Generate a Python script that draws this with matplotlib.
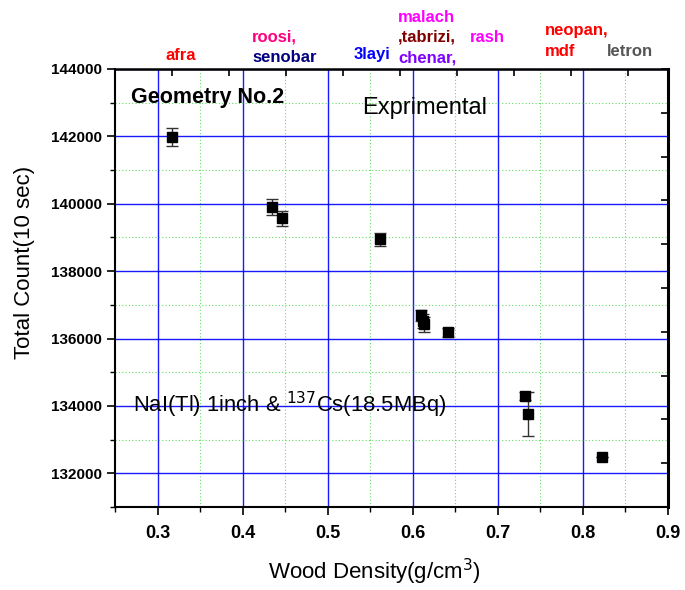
import matplotlib
matplotlib.use("Agg")
import matplotlib.pyplot as plt
from matplotlib.ticker import MultipleLocator

density = [0.317, 0.434, 0.446, 0.562, 0.610, 0.612, 0.613, 0.641, 0.732, 0.736, 0.822]
counts = [141980, 139910, 139570, 138940, 136690, 136520, 136420, 136180, 134290, 133750, 132480]
errors = [260, 230, 220, 200, 160, 200, 230, 130, 120, 650, 0]

wood_labels = ["afra", "roosi,", "senobar", "3layi", "malach", ",tabrizi,", "chenar,",
               "rash", "neopan,", "mdf", "letron"]
label_colors = ["#FF0000", "#FF0080", "#000080", "#0000FF", "#FF00FF", "#800000", "#8000FF",
                "#FF00FF", "#FF0000", "#FF0000", "#555555"]
# positions in figure pixels (x left edge, y from top)
label_pos = [(165, 55), (252, 37), (252, 57), (354, 55), (398, 17), (398, 37), (398, 58),
             (470, 37), (545, 30), (545, 52), (607, 52)]

plt.rcParams['font.family'] = ['Liberation Sans', 'DejaVu Sans']

W, H = 685, 590
fig = plt.figure(figsize=(W / 100, H / 100), dpi=100)
L, R, T, B = 115, 668, 69, 507
ax = fig.add_axes([L / W, 1 - B / H, (R - L) / W, (B - T) / H])

ax.set_xlim(0.25, 0.9)
ax.set_ylim(131000, 144000)
ax.xaxis.set_major_locator(MultipleLocator(0.1))
ax.xaxis.set_minor_locator(MultipleLocator(0.05))
ax.yaxis.set_minor_locator(MultipleLocator(1000))
ax.set_yticks([132000, 134000, 136000, 138000, 140000, 142000, 144000])

ax.grid(which='major', color='#0000FF', lw=1.0, alpha=0.9)
ax.grid(which='minor', color='#66DD66', lw=0.8, ls=(0, (1, 2)))
ax.set_axisbelow(True)

ax.errorbar(density, counts, yerr=errors, fmt='s', color='black', ms=7,
            ecolor='#333333', elinewidth=1.0, capsize=4, capthick=1.0, zorder=5)

ax.tick_params(which='major', direction='out', length=6, width=1.2,
               top=False, right=False)
ax.tick_params(which='minor', direction='out', length=3.5, width=1.0, top=False, right=False)
ax.tick_params(axis='y', labelsize=11)
ax.tick_params(axis='x', labelsize=13, pad=7)
for lab in ax.get_xticklabels() + ax.get_yticklabels():
    lab.set_fontweight('bold')

for s in ['left', 'bottom']:
    ax.spines[s].set_linewidth(1.5)
ax.spines['right'].set_linewidth(2.2)
ax.spines['top'].set_linewidth(1.8)

# secondary axes ticks (inward) on top and right
axt = ax.twiny()
axt.set_xlim(0, 1)
axt.xaxis.set_major_locator(MultipleLocator(0.103))
axt.tick_params(direction='in', length=5, width=1.2, labeltop=False)
axr = ax.twinx()
axr.set_ylim(0, 1)
axr.yaxis.set_major_locator(MultipleLocator(0.1))
axr.tick_params(direction='in', length=5, width=1.2, labelright=False)
for a in (axt, axr):
    for s in a.spines.values():
        s.set_visible(False)

ax.set_xlabel('Wood Density(g/cm$^3$)', fontsize=16, va='center')
ax.xaxis.set_label_coords((374 - L) / (R - L), -(572 - B) / (B - T))
ax.set_ylabel('Total Count(10 sec)', fontsize=16, va='center')
ax.yaxis.set_label_coords(-(L - 25) / (R - L), (B - 262) / (B - T))

fig.text(131 / W, 1 - 97 / H, 'Geometry No.2', fontsize=15.5, fontweight='bold',
         va='center', ha='left')
fig.text(362 / W, 1 - 108 / H, 'Exprimental', fontsize=17, va='center', ha='left')
fig.text(133 / W, 1 - 405 / H, 'NaI(Tl) 1inch & $^{137}$Cs(18.5MBq)', fontsize=15.8,
         va='center', ha='left')

for t, c, (px, py) in zip(wood_labels, label_colors, label_pos):
    fig.text(px / W, 1 - py / H, t, color=c, fontsize=12, fontweight='bold',
             va='center', ha='left')

fig.savefig('out.png', dpi=100)
